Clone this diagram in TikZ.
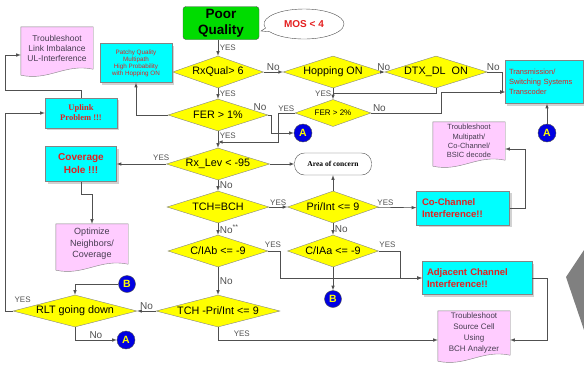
\documentclass[tikz,border=0pt]{standalone}
\usepackage{fontspec}
\setmainfont{Liberation Sans}
\newfontfamily\timesbf{Liberation Serif}
\usetikzlibrary{shapes.geometric, shapes.callouts, shadows, calc, backgrounds}

\definecolor{qgreen}{RGB}{0,220,0}
\definecolor{qcyan}{RGB}{0,255,255}
\definecolor{qyellow}{RGB}{255,255,0}
\definecolor{qpink}{RGB}{255,204,255}
\definecolor{qred}{RGB}{228,32,32}
\definecolor{qblue}{RGB}{0,0,225}
\definecolor{qline}{RGB}{80,80,80}
\definecolor{qdoctext}{RGB}{70,60,80}

\tikzset{
  dec/.style={diamond, draw=qline!70, fill=qyellow, aspect=4, inner sep=0pt,
    minimum height=32pt, font=\fontsize{10.8}{11}\selectfont},
  alert/.style={draw=qline!70, fill=qcyan, text=qred, inner sep=2pt,
    drop shadow={shadow xshift=2pt, shadow yshift=-2pt, fill=black!35}},
  doc/.style={text=qdoctext, align=center, inner sep=0pt, minimum width=72pt},
  conn/.style={circle, draw=qline, fill=qblue, text=qyellow, inner sep=0pt,
    font=\bfseries\fontsize{10.5}{10.5}\selectfont},
  lbl/.style={text=qline, inner sep=1.5pt, font=\fontsize{8}{8}\selectfont},
  lblno/.style={text=qline, inner sep=1.5pt, font=\fontsize{10}{10}\selectfont},
  flow/.style={draw=qline, line width=0.6pt, ->, >=latex},
}

% pink document box with wavy bottom
\newcommand{\docshape}[1]{%
  \begin{pgfonlayer}{background}
    \filldraw[draw=qline!70, fill=qpink] (#1.north west) -- (#1.north east) -- (#1.south east)
      .. controls ($(#1.south)+(8pt,6pt)$) and ($(#1.south)+(-8pt,-12pt)$) .. ([yshift=-6pt]#1.south west) -- cycle;
  \end{pgfonlayer}}

\begin{document}
\begin{tikzpicture}[x=1pt, y=-1pt]
\useasboundingbox (0,0) rectangle (584,368);

% start and callout
\node[draw=qline, fill=qgreen, rounded corners=3pt, minimum width=76pt, minimum height=33pt, inner sep=0pt,
  align=center, font=\bfseries\fontsize{13.5}{16}\selectfont] (poor) at (221,23) {Poor\\Quality};
\node[ellipse callout, draw=qline, fill=white, minimum width=80pt, minimum height=30pt,
  callout absolute pointer={(261,31)}, text=qred, font=\bfseries\fontsize{10}{10}\selectfont] (mos) at (304,24) {MOS < 4};

% decisions
\node[dec, minimum width=86pt] (rxq) at (218,72) {RxQual> 6};
\node[dec, minimum width=90pt] (hop) at (333,72) {Hopping ON};
\node[dec, minimum width=92pt] (dtx) at (436,72) {DTX\_DL~~ON};
\node[dec, minimum width=100pt] (fer1) at (218,115) {FER > 1\%};
\node[dec, minimum width=76pt, minimum height=27pt, font=\fontsize{8}{8}\selectfont] (fer2) at (333,113) {FER > 2\%};
\node[dec, minimum width=100pt] (rxlev) at (218,164) {Rx\_Lev < -95};
\node[dec, minimum width=102pt] (tchbch) at (218,207) {TCH=BCH};
\node[dec, minimum width=91pt] (pri) at (333,207) {Pri/Int <= 9};
\node[dec, minimum width=100pt] (ciab) at (218,251) {C/IAb <= -9};
\node[dec, minimum width=91pt] (ciaa) at (333,251) {C/IAa <= -9};
\node[dec, minimum width=124pt] (tchpri) at (218,311) {TCH -Pri/Int <= 9};
\node[dec, minimum width=124pt] (rlt) at (75,311) {RLT going down};

% results
\node[alert, minimum width=72pt, minimum height=39pt, align=center, font=\fontsize{6.3}{7}\selectfont] (patchy) at (136,63)
  {Patchy Quality\\Multipath\\High Probability\\with Hopping ON};
\node[alert, minimum width=78pt, minimum height=43pt, align=left, text width=70pt, font=\fontsize{7.5}{10}\selectfont] (trans) at (544,82)
  {Transmission/\\Switching Systems\\Transcoder};
\node[alert, minimum width=72pt, minimum height=30pt, align=center, font=\timesbf\bfseries\fontsize{8.5}{10}\selectfont] (uplink) at (81,113)
  {Uplink\\Problem !!!};
\node[alert, minimum width=71pt, minimum height=35pt, align=center, font=\bfseries\fontsize{10}{13}\selectfont] (cover) at (81,164)
  {Coverage\\Hole !!!};
\node[alert, minimum width=93pt, minimum height=34pt, align=left, text width=82pt, font=\bfseries\fontsize{9.5}{12.5}\selectfont] (cochan) at (463,208)
  {Co-Channel\\Interference!!};
\node[alert, minimum width=110pt, minimum height=33pt, align=left, text width=100pt, font=\bfseries\fontsize{9.5}{12.5}\selectfont] (adj) at (477,278)
  {Adjacent Channel\\Interference!!};
\node[draw=qline, fill=white, rounded corners=10pt, minimum width=77pt, minimum height=22pt,
  font=\timesbf\bfseries\fontsize{7.5}{8}\selectfont] (area) at (333,164) {Area of concern};

% documents
\node[doc, minimum height=42pt, font=\fontsize{8.5}{10}\selectfont] (linkimb) at (57,48) {Troubleshoot\\Link Imbalance\\UL-Interference};
\node[doc, minimum height=38pt, font=\fontsize{7.5}{9.3}\selectfont] (multi) at (469,141) {Troubleshoot\\Multipath/\\Co-Channel/\\BSIC decode};
\node[doc, minimum height=40pt, font=\fontsize{9}{11.5}\selectfont] (optim) at (92,244) {Optimize\\Neighbors/\\Coverage};
\node[doc, minimum height=44pt, font=\fontsize{8}{11}\selectfont] (source) at (474,333) {Troubleshoot\\Source Cell\\Using\\BCH Analyzer};
\docshape{linkimb}
\docshape{multi}
\docshape{optim}
\docshape{source}

% connectors A / B
\node[conn, minimum size=18pt] (ca1) at (303,133) {A};
\node[conn, minimum size=18pt] (ca2) at (547,133) {A};
\node[conn, minimum size=18pt] (ca3) at (126,340) {A};
\node[conn, minimum size=17pt] (cb1) at (333,299) {B};
\node[conn, minimum size=17pt] (cb2) at (127,284) {B};

\coordinate (j1) at (218,142);

% flow
\draw[flow] (poor.south -| rxq.north) -- node[lbl, right]{YES} (rxq.north);
\draw[flow] (rxq) -- node[lblno, above]{No} (hop);
\draw[flow] (hop) -- node[lblno, above]{No} (dtx);
\draw[flow] (dtx.east) -- node[lblno, above, pos=0.4]{No} ++(15,0) |- ($(trans.west)+(0,10)$);
\draw[flow] (hop) -- node[lbl, left]{YES} (fer2);
\draw[draw=qline, line width=0.6pt] (dtx.south) |- ($(hop.south)+(0,5)$);
\draw[flow] (fer2.east) -- node[lblno, above right, pos=0]{No} ++(70,0) |- ($(trans.west)+(0,10)$);
\draw[flow] (fer2.west) -- node[lbl, above]{YES} ++(-17,0) |- (j1);
\draw[flow] (rxq) -- node[lbl, right]{YES} (fer1);
\draw[flow] (fer1.west) -| (patchy.south);
\draw[flow] (fer1.east) -- node[lblno, above left, pos=0, yshift=3pt]{No} ++(3,0) |- (ca1.west);
\draw[flow] (fer1) -- node[lbl, right, pos=0.3]{YES} (rxlev);
\draw[flow] (rxlev) -- node[lbl, above=2pt, pos=0.1]{YES} (cover);
\draw[flow] (rxlev) -- (area);
\draw[flow] (rxlev) -- node[lblno, right]{No} (tchbch);
\draw[flow] (cover.south) -- ++(0,13) -| (optim.north);
\draw[flow] (tchbch) -- node[lbl, above]{YES} (pri);
\draw[flow] (pri) -- (area);
\draw[flow] (pri) -- node[lbl, above, pos=0.2]{YES} (cochan);
\draw[flow] (pri) -- node[lblno, right]{No} (ciaa);
\draw[flow] (tchbch) -- node[lblno, right]{No\textsuperscript{**}} (ciab);
\draw[flow] (cochan.east) -- ++(16,0) |- ($(multi.east)+(0,8)$);
\draw[flow] (ca2.north) -- (ca2.north |- trans.south);
\draw[flow] (ciab.east) -- node[lbl, above=2pt, pos=0.4]{YES} ++(12,0) |- (adj.west);
\draw[flow] (ciaa.east) -- node[lbl, above=2pt, pos=0.4]{YES} ++(22,0) |- (adj.west);
\draw[flow] (ciaa) -- (cb1);
\draw[flow] (ciab) -- node[lblno, right]{No} (tchpri);
\draw[flow] (tchpri) -- node[lblno, above]{No} (rlt);
\draw[flow] (tchpri.south) |- node[lbl, right=14pt, pos=0.25]{YES} ($(source.west)+(0,7)$);
\draw[flow] (adj.east) -- ++(15,0) |- ($(source.east)+(0,7)$);
\draw[flow] (cb2.west) -| (rlt.north);
\draw[flow] (rlt.south) |- node[lblno, above, pos=0.75]{No} (ca3.west);
\draw[flow] (rlt.west) -- node[lbl, anchor=south west, pos=0, yshift=7pt]{YES} ++(-8,0) |- (uplink.west);
\draw[flow] (uplink.north) -- ++(0,-8) -- ++(-76,0) |- ($(linkimb.west)+(0,7)$);

% grey shape at the right edge
\fill[black!50] (584,250) -- (566,277) -- (584,330) -- cycle;
\end{tikzpicture}
\end{document}
